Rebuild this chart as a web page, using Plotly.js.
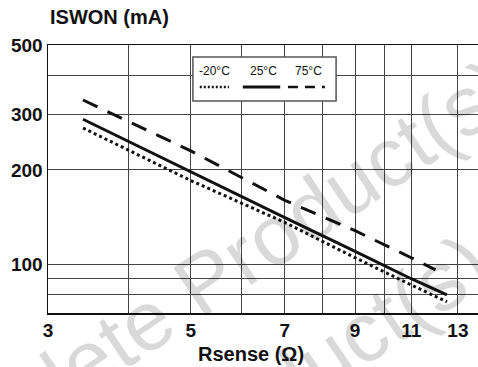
<!DOCTYPE html>
<html>
<head>
<meta charset="utf-8">
<script src="https://cdn.plot.ly/plotly-3.0.1.min.js"></script>
<style>html,body{margin:0;padding:0;background:#fff;}#chart{width:478px;height:367px;}</style>
</head>
<body>
<div id="chart"></div>
<script>
// Rsense (ohm) sample points
const rsense = [3.4, 5, 7, 9, 11, 12.5];
const rsense75 = [3.4, 5, 7, 9, 11, 12.0];
// ISWON (mA) per temperature
const iswonM20 = [272, 185, 136, 105, 86, 76];
const iswon25 = [290, 197, 141, 110, 90, 80];
const iswon75 = [334, 230, 160, 128, 105, 96];
const seriesNames = ['-20°C', '25°C', '75°C'];
const xTickVals = [3, 4, 5, 6, 7, 8, 9, 10, 11, 13];
const xTickText = ['3', '', '5', '', '7', '', '9', '', '11', '13'];
const yTickVals = [80, 90, 100, 200, 300, 400, 500];
const yTickText = ['', '', '100', '200', '300', '', '500'];
const watermark = 'Obsolete Product(s)';

const FONT = '"Liberation Sans", Arial, sans-serif';

const traces = [
  {x: rsense, y: iswonM20, name: seriesNames[0], mode: 'lines',
   line: {color: '#111', width: 3, dash: '3px,3px'}},
  {x: rsense, y: iswon25, name: seriesNames[1], mode: 'lines',
   line: {color: '#111', width: 3}},
  {x: rsense75, y: iswon75, name: seriesNames[2], mode: 'lines',
   line: {color: '#111', width: 3, dash: '16px,11px'}}
];

const lgY0 = 0.791, lgY1 = 0.955, lgLineY = 0.843, lgTextY = 0.903;
const wmFont = {family: FONT, size: 84, color: 'rgba(0,0,0,0.15)'};
const layout = {
  width: 478, height: 367,
  margin: {l: 48, r: 0, t: 45, b: 54},
  paper_bgcolor: '#fff', plot_bgcolor: '#fff',
  showlegend: false,
  font: {family: FONT, color: '#111'},
  xaxis: {
    type: 'log', range: [Math.log10(3), Math.log10(13.97)],
    tickvals: xTickVals, ticktext: xTickText,
    showgrid: true, gridcolor: '#444', gridwidth: 1,
    showline: true, linecolor: '#111', linewidth: 1.5, mirror: true,
    ticks: '', zeroline: false,
    tickfont: {family: FONT, size: 19, color: '#111', weight: 'bold'}
  },
  yaxis: {
    type: 'log', range: [Math.log10(70), Math.log10(500)],
    tickvals: yTickVals, ticktext: yTickText,
    showgrid: true, gridcolor: '#444', gridwidth: 1,
    showline: true, linecolor: '#111', linewidth: 1.5, mirror: false,
    ticks: '', zeroline: false,
    tickfont: {family: FONT, size: 19, color: '#111', weight: 'bold'}
  },
  shapes: [
    {type: 'rect', xref: 'paper', yref: 'paper', x0: 0.337, x1: 0.670, y0: lgY0, y1: lgY1,
     fillcolor: '#fff', line: {color: '#555', width: 1.5}, layer: 'above'},
    {type: 'line', xref: 'paper', yref: 'paper', x0: 0.353, x1: 0.421, y0: lgLineY, y1: lgLineY,
     line: {color: '#111', width: 2.5, dash: '2px,2px'}},
    {type: 'line', xref: 'paper', yref: 'paper', x0: 0.453, x1: 0.540, y0: lgLineY, y1: lgLineY,
     line: {color: '#111', width: 3}},
    {type: 'line', xref: 'paper', yref: 'paper', x0: 0.558, x1: 0.644, y0: lgLineY, y1: lgLineY,
     line: {color: '#111', width: 2.5, dash: '10px,7px'}}
  ],
  annotations: [
    {text: watermark, xref: 'paper', yref: 'paper', x: 0.342, y: 0.093, xanchor: 'center', yanchor: 'middle',
     textangle: -34, showarrow: false, font: wmFont},
    {text: watermark, xref: 'paper', yref: 'paper', x: 0.284, y: -0.56, xanchor: 'center', yanchor: 'middle',
     textangle: -34, showarrow: false, font: wmFont},
    {text: 'ISWON (mA)', xref: 'paper', yref: 'paper', x: 0, y: 1.104, xanchor: 'left', yanchor: 'middle',
     showarrow: false, font: {family: FONT, size: 20, color: '#111', weight: 'bold'}},
    {text: 'Rsense (Ω)', xref: 'paper', yref: 'paper', x: 0.472, y: -0.153, xanchor: 'center', yanchor: 'middle',
     showarrow: false, font: {family: FONT, size: 20, color: '#111', weight: 'bold'}},
    {text: seriesNames[0], xref: 'paper', yref: 'paper', x: 0.388, y: lgTextY, xanchor: 'center', yanchor: 'middle',
     showarrow: false, font: {family: FONT, size: 12, color: '#111'}},
    {text: seriesNames[1], xref: 'paper', yref: 'paper', x: 0.5, y: lgTextY, xanchor: 'center', yanchor: 'middle',
     showarrow: false, font: {family: FONT, size: 12, color: '#111'}},
    {text: seriesNames[2], xref: 'paper', yref: 'paper', x: 0.605, y: lgTextY, xanchor: 'center', yanchor: 'middle',
     showarrow: false, font: {family: FONT, size: 12, color: '#111'}}
  ]
};

Plotly.newPlot('chart', traces, layout, {staticPlot: true, displayModeBar: false});
</script>
</body>
</html>
